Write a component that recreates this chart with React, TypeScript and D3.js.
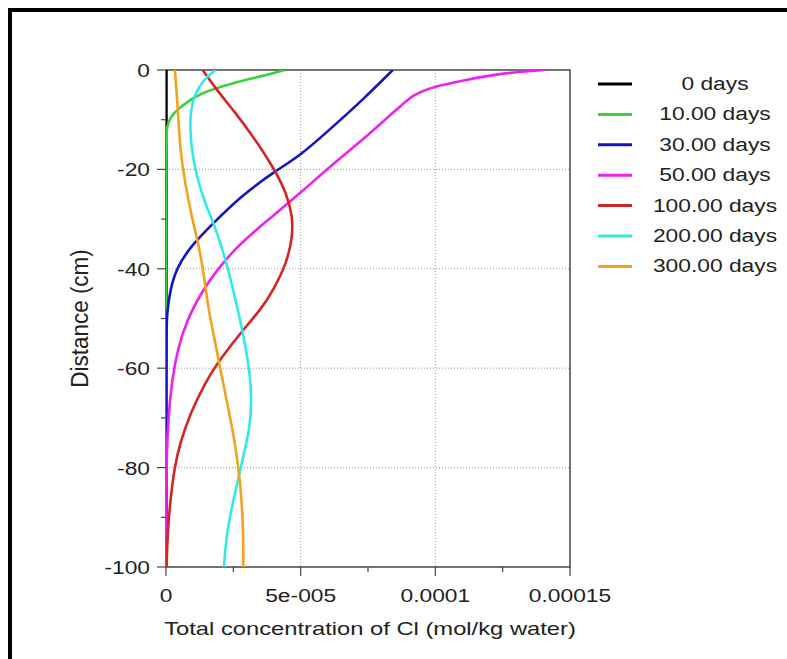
import React from "react";
import * as d3 from "d3";

const UNIT = 1e-5;
const seriesNames = ["0 days", "10.00 days", "30.00 days", "50.00 days", "100.00 days", "200.00 days", "300.00 days"];
const seriesColors = ["#000000", "#3ad43a", "#1515c0", "#ee22ee", "#d42424", "#33e8e8", "#f2a21e"];

// depth (cm) and concentration (x 1e-5 mol/kg water)
const depth0 = [0, -100];
const conc0 = [0, 0];
const depth10 = [0, -1.2, -2.6, -4.6, -7.4, -9.5, -11.5, -14, -100];
const conc10 = [4.42, 3.6, 2.49, 1.26, 0.52, 0.15, 0.03, 0, 0];
const depth30 = [0, -6.0, -11.4, -17.4, -20.1, -25.5, -30.8, -34.9, -39.6, -44.3, -49, -55, -100];
const conc30 = [8.42, 7.3, 6.2, 4.95, 4.11, 2.75, 1.76, 1.01, 0.4, 0.15, 0.03, 0, 0];
const depth50 = [0, -0.66, -2.0, -3.36, -5.0, -7.4, -9.4, -13.4, -18.8, -24.8, -30.2, -35.6, -41.6, -45, -50, -56.3, -63, -69.8, -76.5, -85, -100];
const conc50 = [14.07, 12.4, 11.14, 9.9, 9.17, 8.69, 8.25, 7.45, 6.21, 4.98, 3.78, 2.6, 1.7, 1.3, 0.8, 0.42, 0.21, 0.09, 0.03, 0.01, 0];
const depth100 = [0, -4.0, -8.0, -13.4, -19.5, -24.8, -29.5, -33.5, -38.9, -44.3, -48, -53.0, -59.0, -63.0, -69.1, -75.1, -79.8, -86.5, -93.2, -100];
const conc100 = [1.36, 1.88, 2.49, 3.24, 3.98, 4.48, 4.7, 4.7, 4.48, 3.98, 3.55, 2.75, 1.9, 1.45, 0.9, 0.52, 0.32, 0.16, 0.06, 0.02];
const depth200 = [0, -2.0, -4.7, -8.0, -11.4, -16.1, -21.5, -26.8, -31.5, -37.6, -44.3, -53.0, -61.0, -66.4, -71.8, -77.8, -86.5, -93.2, -100];
const conc200 = [1.82, 1.39, 1.08, 0.92, 0.89, 0.95, 1.14, 1.45, 1.82, 2.19, 2.5, 2.87, 3.12, 3.18, 3.12, 2.87, 2.5, 2.25, 2.15];
const depth300 = [0, -6, -16.1, -22.8, -29.5, -36.2, -42.9, -47.3, -53, -59.7, -66.4, -73.1, -79.8, -86.5, -93.2, -100];
const conc300 = [0.33, 0.42, 0.52, 0.71, 0.95, 1.26, 1.45, 1.55, 1.76, 2.0, 2.25, 2.5, 2.69, 2.81, 2.87, 2.87];

const depths = [depth0, depth10, depth30, depth50, depth100, depth200, depth300];
const concs = [conc0, conc10, conc30, conc50, conc100, conc200, conc300];

const xTicks = [0, 5e-5, 1e-4, 1.5e-4];
const xTickLabels = ["0", "5e-005", "0.0001", "0.00015"];
const xMinor = [2.5e-5, 7.5e-5, 1.25e-4];
const yTicks = [0, -20, -40, -60, -80, -100];
const yMinor = [-10, -30, -50, -70, -90];
const xTitle = "Total concentration of Cl (mol/kg water)";
const yTitle = "Distance (cm)";

const W = 787, H = 659;
const left = 166, right = 570, top = 70, bottom = 567;
const FONT = "Liberation Sans, Arial, sans-serif";
const FS = 19;
const SX = 1.2;

export default function App() {
  const x = d3.scaleLinear().domain([0, 1.5e-4]).range([left, right]);
  const y = d3.scaleLinear().domain([0, -100]).range([top, bottom]);
  const line = d3
    .line<[number, number]>()
    .x((d) => x(d[0]))
    .y((d) => y(d[1]))
    .curve(d3.curveBasis);

  const txt = (tx: number, ty: number, s: string, anchor: string, key?: any, sx = SX) => (
    <text key={key} transform={`translate(${tx},${ty}) scale(${sx},1)`} textAnchor={anchor} fontSize={FS} fontFamily={FONT} fill="#222">
      {s}
    </text>
  );

  return (
    <svg width={W} height={H} style={{ position: "absolute", left: 0, top: 0, background: "#fff" }}>
      <rect x={0} y={0} width={W} height={H} fill="#fff" />
      {/* frame */}
      <line x1={8} x2={W} y1={10} y2={10} stroke="#000" strokeWidth={4} />
      <line x1={10} x2={10} y1={8} y2={H} stroke="#000" strokeWidth={4} />
      <defs>
        <clipPath id="plot">
          <rect x={left} y={top} width={right - left} height={bottom - top} />
        </clipPath>
      </defs>
      {/* grid */}
      {xTicks.slice(1, 3).map((t, i) => (
        <line key={"gx" + i} x1={x(t)} x2={x(t)} y1={top} y2={bottom} stroke="#999" strokeWidth={1} strokeDasharray="1,2" />
      ))}
      {yTicks.slice(1, 5).map((t, i) => (
        <line key={"gy" + i} x1={left} x2={right} y1={y(t)} y2={y(t)} stroke="#999" strokeWidth={1} strokeDasharray="1,2" />
      ))}
      {/* frame of plot */}
      <rect x={left} y={top} width={right - left} height={bottom - top} fill="none" stroke="#444" strokeWidth={1.5} />
      {/* ticks */}
      {xTicks.map((t, i) => (
        <line key={"tx" + i} x1={x(t)} x2={x(t)} y1={bottom} y2={bottom + 9} stroke="#444" strokeWidth={1.2} />
      ))}
      {xMinor.map((t, i) => (
        <line key={"mx" + i} x1={x(t)} x2={x(t)} y1={bottom} y2={bottom + 5} stroke="#444" strokeWidth={1.2} />
      ))}
      {yTicks.map((t, i) => (
        <line key={"ty" + i} x1={left - 9} x2={left} y1={y(t)} y2={y(t)} stroke="#444" strokeWidth={1.2} />
      ))}
      {yMinor.map((t, i) => (
        <line key={"my" + i} x1={left - 5} x2={left} y1={y(t)} y2={y(t)} stroke="#444" strokeWidth={1.2} />
      ))}
      {/* series */}
      <g clipPath="url(#plot)">
        {depths.map((ds, si) => {
          const pts: [number, number][] = ds.map((d, j) => [concs[si][j] * UNIT, d]);
          return (
            <path key={"s" + si} d={line(pts) || ""} fill="none" stroke={seriesColors[si]} strokeWidth={si === 0 ? 3.5 : 2.6} />
          );
        })}
      </g>
      {/* tick labels */}
      {xTicks.map((t, i) => txt(x(t), 602, xTickLabels[i], "middle", "xl" + i))}
      {yTicks.map((t, i) => txt(left - 16, y(t) + 7, String(t), "end", "yl" + i))}
      {/* titles */}
      {txt((left + right) / 2 + 2, 635, xTitle, "middle", "xt", 1.25)}
      <text transform={`translate(88,${(top + bottom) / 2}) rotate(-90) scale(1,1.05)`} textAnchor="middle" fontSize={22.5} fontFamily={FONT} fill="#222">
        {yTitle}
      </text>
      {/* legend */}
      {seriesNames.map((n, i) => (
        <g key={"lg" + i}>
          <line x1={598} x2={632} y1={84 + i * 30.4} y2={84 + i * 30.4} stroke={seriesColors[i]} strokeWidth={3} />
          {txt(715, 84 + i * 30.4 + 6, n, "middle")}
        </g>
      ))}
    </svg>
  );
}
